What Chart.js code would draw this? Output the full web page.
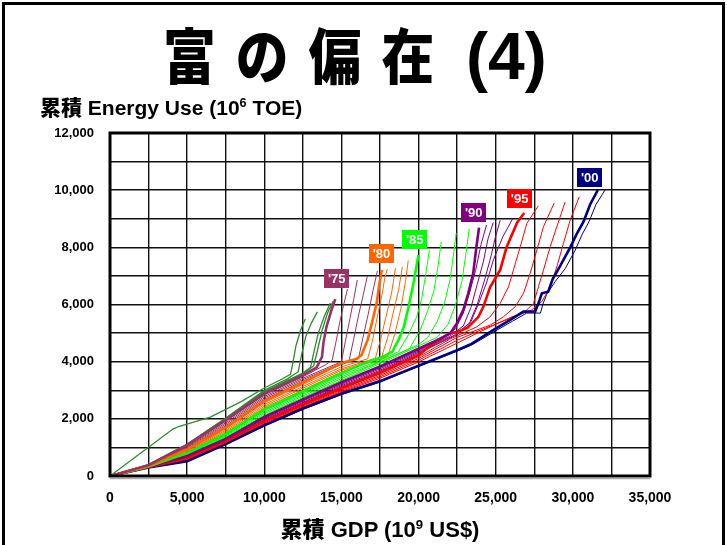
<!DOCTYPE html>
<html>
<head>
<meta charset="utf-8">
<script src="https://cdn.jsdelivr.net/npm/chart.js@4.4.0/dist/chart.umd.min.js"></script>
<style>
  body { margin: 0; background: #fff; font-family: "Liberation Sans", Arial, sans-serif; }
  #page { position: relative; width: 727px; height: 545px; overflow: hidden; background: #fff; }
  #frame { position: absolute; left: 2px; top: 2px; width: 717px; height: 560px; border: 3px solid #000; }
  #chart { position: absolute; left: 0; top: 0; }
  .txt { position: absolute; font-weight: bold; color: #000; white-space: nowrap; }
  .cjk { font-family: "Noto Sans CJK JP", sans-serif; font-weight: 900; }
  #title1 { left: 163px; top: 18px; font-size: 60px; line-height: 70px; word-spacing: 9px;
            transform: scaleX(0.88); transform-origin: left top; }
  #title2 { left: 466px; top: 18px; font-size: 66px; line-height: 76px; }
  #ytitle { left: 40px; top: 93px; font-size: 21px; line-height: 26px; }
  #xtitle { left: 0; width: 760px; text-align: center; top: 513px; font-size: 22px; line-height: 28px; }
  sup { font-size: 60%; vertical-align: 0; position: relative; top: -0.6em; }
</style>
</head>
<body>
<div id="page">
  <canvas id="chart" width="727" height="545"></canvas>
  <div id="frame"></div>
  <div id="title1" class="txt cjk">富 の 偏 在</div>
  <div id="title2" class="txt">(4)</div>
  <div id="ytitle" class="txt"><span class="cjk">累積</span> Energy Use (10<sup>6</sup> TOE)</div>
  <div id="xtitle" class="txt"><span class="cjk">累積</span> GDP (10<sup>9</sup> US$)</div>
</div>
<script>
// cumulative GDP (x) vs cumulative energy use (y), one curve per year
var curve71 = [[0,0],[4100,1650],[4500,1740],[6500,2060],[8500,2600],[10000,3080],[11000,3350],[11700,3560],[11850,3950],[12050,4550],[12350,5100],[12660,5490]];
var curve72 = [[0,0],[2500,400],[5000,1120],[7500,2030],[10000,3000],[11500,3400],[12200,3650],[12400,4200],[12700,4900],[13050,5350],[13440,5740]];
var curve73 = [[0,0],[2500,395],[5000,1100],[7500,2000],[10000,2960],[12500,3600],[13000,3800],[13200,4300],[13500,5000],[13900,5600],[14280,6050]];
var curve74 = [[0,0],[2500,390],[5000,1090],[7500,1990],[10000,2930],[12500,3570],[13200,3850],[13450,4400],[13750,5100],[14100,5700],[14450,6100]];

var curve75 = [[0,0],[2500,380],[5000,1080],[7500,1960],[10000,2880],[12500,3520],[13400,3800],[13740,4170],[13830,4650],[14030,5220],[14350,5800],[14600,6190]];
var curve76 = [[0,0],[2500,375],[5000,1050],[7500,1910],[10000,2830],[12500,3470],[14000,3900],[14400,4050],[14650,4700],[14900,5400],[15150,6000],[15390,6540]];
var curve77 = [[0,0],[2500,370],[5000,1020],[7500,1860],[10000,2780],[12500,3420],[15000,4000],[15250,4700],[15550,5500],[15800,6200],[16030,6860]];
var curve78 = [[0,0],[2500,365],[5000,990],[7500,1810],[10000,2730],[12500,3370],[15000,3950],[15500,4050],[15800,4800],[16100,5600],[16400,6300],[16680,7000]];
var curve79 = [[0,0],[2500,360],[5000,960],[7500,1760],[10000,2680],[12500,3320],[15000,3900],[16100,4100],[16400,4850],[16750,5700],[17050,6500],[17330,7170]];

var curve80 = [[0,0],[2500,350],[5000,930],[7500,1700],[10000,2620],[12500,3270],[15000,3950],[16000,4100],[16300,4230],[16700,4760],[17000,5400],[17300,6100],[17450,6700],[17620,7210]];
var curve81 = [[0,0],[2500,345],[5000,900],[7500,1650],[10000,2560],[12500,3200],[15000,3820],[16700,4100],[17000,4700],[17300,5500],[17650,6400],[17800,6900],[17970,7240]];
var curve82 = [[0,0],[2500,340],[5000,870],[7500,1600],[10000,2500],[12500,3130],[15000,3750],[17200,4120],[17550,4800],[17900,5600],[18250,6400],[18500,7270]];
var curve83 = [[0,0],[2500,337],[5000,845],[7500,1555],[10000,2440],[12500,3070],[15000,3700],[17600,4150],[18000,4850],[18350,5700],[18700,6500],[18950,7320]];
var curve84 = [[0,0],[2500,334],[5000,820],[7500,1510],[10000,2390],[12500,3010],[15000,3640],[18000,4180],[18450,4950],[18850,5850],[19150,6800],[19330,7540]];

var curve85 = [[0,0],[2500,330],[5000,800],[7500,1470],[10000,2330],[12500,2960],[15000,3600],[16500,3950],[17700,4170],[18300,4350],[18700,4760],[19050,5220],[19350,5920],[19670,6740],[19990,7730]];
var curve86 = [[0,0],[2500,328],[5000,780],[7500,1430],[10000,2280],[12500,2900],[15000,3530],[17500,4050],[18700,4350],[19300,4900],[19900,5600],[20200,6200],[20450,7000],[20700,7900]];
var curve87 = [[0,0],[2500,326],[5000,760],[7500,1395],[10000,2230],[12500,2850],[15000,3470],[17500,4000],[19400,4450],[20100,5100],[20600,5800],[21000,6500],[21250,7300],[21470,8190]];
var curve88 = [[0,0],[2500,324],[5000,740],[7500,1360],[10000,2180],[12500,2800],[15000,3410],[17500,3980],[20000,4600],[20600,4850],[21200,5400],[21700,6100],[22050,6900],[22250,7700],[22440,8500]];
var curve89 = [[0,0],[2500,322],[5000,720],[7500,1330],[10000,2130],[12500,2750],[15000,3350],[17500,3930],[20000,4550],[21200,4850],[21900,5300],[22400,6000],[22800,6800],[23050,7700],[23280,8640]];

var curve90 = [[0,0],[2500,320],[5000,700],[7500,1300],[10000,2070],[12500,2680],[15000,3280],[17500,3830],[20000,4450],[21200,4750],[22050,4990],[22480,5340],[22900,5810],[23220,6390],[23540,7090],[23750,8020],[23920,8690]];
var curve91 = [[0,0],[2500,318],[5000,680],[7500,1275],[10000,2040],[12500,2650],[15000,3240],[17500,3790],[20000,4410],[21500,4800],[22400,5150],[22900,5700],[23300,6400],[23700,7200],[24050,8100],[24400,8780]];
var curve92 = [[0,0],[2500,316],[5000,660],[7500,1250],[10000,2010],[12500,2620],[15000,3200],[17500,3750],[20000,4370],[22000,4880],[22900,5250],[23400,5900],[23800,6700],[24200,7500],[24500,8300],[24840,8870]];
var curve93 = [[0,0],[2500,315],[5000,645],[7500,1230],[10000,1980],[12500,2580],[15000,3160],[17500,3700],[20000,4330],[22300,4920],[23300,5350],[23800,6000],[24300,6900],[24700,7700],[25000,8400],[25290,8950]];
var curve94 = [[0,0],[2500,314],[5000,630],[7500,1210],[10000,1950],[12500,2550],[15000,3120],[17500,3660],[20000,4290],[22500,4950],[23400,5400],[23900,6050],[24400,6750],[24850,7560],[25450,8360],[26100,9000]];

var curve95 = [[0,0],[2500,313],[5000,615],[7500,1195],[10000,1920],[12500,2510],[15000,3080],[17500,3620],[20000,4230],[21000,4650],[22050,5000],[22500,5040],[23160,5180],[23870,5560],[24190,5910],[24640,6610],[25290,7210],[25710,8010],[26400,8880],[26850,9200]];
var curve96 = [[0,0],[2500,312],[5000,600],[7500,1180],[10000,1890],[12500,2480],[15000,3040],[17500,3570],[20000,4170],[22000,4780],[23780,5220],[24640,5570],[25290,6040],[25830,6620],[26150,7210],[26590,8020],[27020,8840],[27760,9450]];
var curve97 = [[0,0],[2500,311],[5000,585],[7500,1165],[10000,1860],[12500,2450],[15000,3000],[17500,3520],[20000,4110],[22500,4850],[24640,5280],[25500,5570],[26260,5920],[26800,6390],[27230,7090],[27670,7910],[28100,8730],[28790,9550]];
var curve98 = [[0,0],[2500,310],[5000,570],[7500,1150],[10000,1830],[12500,2420],[15000,2960],[17500,3470],[20000,4050],[22500,4750],[24000,5100],[25500,5420],[26800,5700],[27450,6040],[27770,6620],[28100,7210],[28530,8020],[28960,8720],[29500,9590]];
var curve99 = [[0,0],[2500,310],[5000,555],[7500,1135],[10000,1800],[12500,2390],[15000,2930],[17500,3420],[20000,3990],[22500,4650],[24500,5180],[26000,5560],[27300,5800],[27990,6100],[28530,6620],[28960,7320],[29390,8140],[29830,8960],[30410,9760]];

var curve00 = [[0,0],[2500,300],[5000,520],[7500,1120],[10000,1770],[12500,2360],[15000,2880],[17500,3320],[20000,3860],[22500,4400],[23350,4600],[24860,5110],[25940,5460],[26800,5750],[27560,5760],[27770,6040],[27990,6390],[28400,6450],[28700,6900],[29180,7350],[29830,8000],[30280,8500],[30690,8900],[31120,9500],[31620,10010]];
var curve01 = [[0,0],[2500,298],[5000,510],[7500,1100],[10000,1750],[12500,2330],[15000,2850],[17500,3280],[20000,3840],[22500,4370],[23500,4600],[25000,5080],[26100,5420],[27000,5700],[27900,5700],[28050,6000],[28300,6350],[28850,6800],[29500,7250],[30150,7900],[30600,8450],[31050,8900],[31500,9500],[32090,10010]];

var curves = [curve71, curve72, curve73, curve74, curve75, curve76, curve77, curve78,
  curve79, curve80, curve81, curve82, curve83, curve84, curve85, curve86, curve87,
  curve88, curve89, curve90, curve91, curve92, curve93, curve94, curve95, curve96,
  curve97, curve98, curve99, curve00, curve01];

var xTicks = [0, 5000, 10000, 15000, 20000, 25000, 30000, 35000];
var yTicks = [0, 2000, 4000, 6000, 8000, 10000, 12000];

var tagText = ["'75", "'80", "'85", "'90", "'95", "'00"];
var tagAt = [[14700, 6920], [17600, 7800], [19750, 8290], [23570, 9230], [26550, 9720], [31090, 10450]];

// colour per 5-year group
var tagFill = ['#993366', '#FF6600', '#00FF00', '#800080', '#FF0000', '#000080'];
function colorFor(i) {
  if (i < 4) return '#2E8B2E';
  return tagFill[Math.min(5, Math.floor((i - 4) / 5))];
}
function isThick(i) { return i >= 4 && (i - 4) % 5 === 0; }

var datasets = curves.map(function (c, i) {
  return {
    data: c,
    borderColor: colorFor(i),
    borderWidth: isThick(i) ? 2.6 : (i < 4 ? 1.3 : 1),
    showLine: true,
    pointRadius: 0,
    tension: 0,
    order: isThick(i) ? 0 : 1
  };
});

var frameAndTags = {
  id: 'frameAndTags',
  afterDatasetsDraw: function (chart) {
    var ctx = chart.ctx, a = chart.chartArea;
    var sx = chart.scales.x, sy = chart.scales.y;
    ctx.save();
    ctx.strokeStyle = '#000';
    ctx.lineWidth = 3;
    ctx.strokeRect(a.left, a.top, a.right - a.left, a.bottom - a.top);
    ctx.strokeStyle = '#aaa';
    ctx.lineWidth = 1.5;
    ctx.beginPath();
    ctx.moveTo(a.left, a.bottom + 2.5);
    ctx.lineTo(a.right, a.bottom + 2.5);
    ctx.stroke();
    ctx.font = 'bold 13px "Liberation Sans", Arial, sans-serif';
    ctx.textAlign = 'center';
    ctx.textBaseline = 'middle';
    tagText.forEach(function (t, i) {
      var px = sx.getPixelForValue(tagAt[i][0]);
      var py = sy.getPixelForValue(tagAt[i][1]);
      ctx.fillStyle = tagFill[i];
      ctx.fillRect(Math.round(px - 12.5), Math.round(py - 9.5), 25, 19);
      ctx.fillStyle = '#fff';
      ctx.fillText(t, px, py + 1);
    });
    ctx.restore();
  }
};

Chart.defaults.font.family = '"Liberation Sans", Arial, sans-serif';

new Chart(document.getElementById('chart').getContext('2d'), {
  type: 'scatter',
  data: { datasets: datasets },
  options: {
    responsive: false,
    animation: false,
    layout: { padding: { top: 133, right: 77, left: 0, bottom: 0 } },
    plugins: { legend: { display: false }, tooltip: { enabled: false } },
    scales: {
      x: {
        type: 'linear', min: 0, max: 35000,
        afterFit: function (s) { s.height = 69; },
        grid: { color: '#111', lineWidth: 1.4, drawTicks: false },
        border: { display: false },
        ticks: {
          stepSize: 2500, autoSkip: false, maxRotation: 0, padding: 14, color: '#000',
          font: { size: 14, weight: 'bold' },
          callback: function (v) { return xTicks.indexOf(v) >= 0 ? v.toLocaleString('en-US') : ''; }
        }
      },
      y: {
        type: 'linear', min: 0, max: 12000,
        afterFit: function (s) { s.width = 110; },
        grid: { color: '#111', lineWidth: 1.4, drawTicks: false },
        border: { display: false },
        ticks: {
          stepSize: 1000, autoSkip: false, padding: 16, color: '#000',
          font: { size: 13, weight: 'bold' },
          callback: function (v) { return yTicks.indexOf(v) >= 0 ? v.toLocaleString('en-US') : ''; }
        }
      }
    }
  },
  plugins: [frameAndTags]
});
</script>
</body>
</html>
